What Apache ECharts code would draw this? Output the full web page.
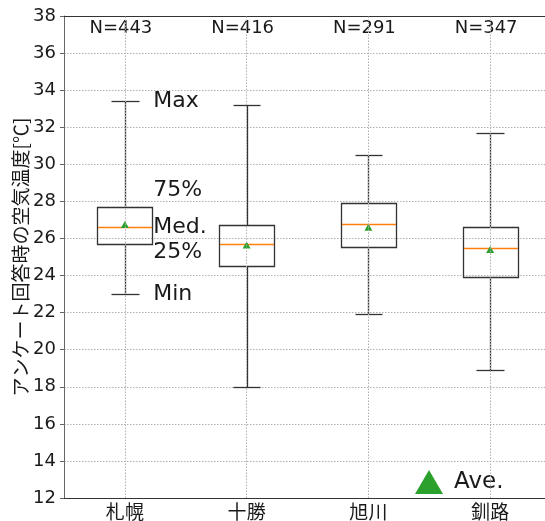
<!DOCTYPE html>
<html>
<head>
<meta charset="utf-8">
<script src="https://cdn.jsdelivr.net/npm/echarts@6/dist/echarts.min.js"></script>
<style>
  html, body { margin: 0; padding: 0; background: #fff; overflow: hidden; }
  #chart { width: 545px; height: 521px; }
</style>
</head>
<body>
<div id="chart"></div>
<script>
// 地点ごとの箱ひげ図の値
const categories = ['札幌', '十勝', '旭川', '釧路'];
const counts = [443, 416, 291, 347];
const whiskerMin = [23.0, 18.0, 21.9, 18.9];
const q1 = [25.7, 24.5, 25.5, 23.9];
const median = [26.6, 25.7, 26.8, 25.5];
const q3 = [27.7, 26.7, 27.9, 26.6];
const whiskerMax = [33.4, 33.2, 30.5, 31.7];
const average = [26.75, 25.65, 26.6, 25.4];

// 札幌の箱の横に付く説明ラベル
const statLabels = ['Max', '75%', 'Med.', '25%', 'Min'];
const statLabelValues = [33.4, 28.6, 26.6, 25.25, 23.0];

const FONT = "'DejaVu Sans', 'Noto Sans CJK JP', sans-serif";
const CJK_FONT = "'Noto Sans CJK JP', sans-serif";
const LINE = '#333';

const chart = echarts.init(document.getElementById('chart'));

const boxData = categories.map((c, i) => [i, whiskerMin[i], q1[i], median[i], q3[i], whiskerMax[i], counts[i]]);

function px(v) {
    return Math.round(v) + 0.5;
}

function renderBox(params, api) {
    const i = api.value(0);
    const xc = api.coord([i, api.value(3)])[0];
    const bw = api.size([1, 0])[0];
    const half = bw * 0.45 / 2;
    const cap = half / 2;
    const yMin = api.coord([i, api.value(1)])[1];
    const yQ1 = api.coord([i, api.value(2)])[1];
    const yMed = api.coord([i, api.value(3)])[1];
    const yQ3 = api.coord([i, api.value(4)])[1];
    const yMax = api.coord([i, api.value(5)])[1];
    const yTop = params.coordSys.y;
    const lineStyle = { stroke: LINE, lineWidth: 1.3, fill: null };

    const children = [
        { type: 'rect', shape: { x: px(xc - half), y: px(yQ3), width: Math.round(2 * half), height: Math.round(yQ1 - yQ3) }, style: lineStyle },
        { type: 'line', shape: { x1: px(xc), y1: px(yQ3), x2: px(xc), y2: px(yMax) }, style: lineStyle },
        { type: 'line', shape: { x1: px(xc), y1: px(yQ1), x2: px(xc), y2: px(yMin) }, style: lineStyle },
        { type: 'line', shape: { x1: px(xc - cap), y1: px(yMax), x2: px(xc + cap), y2: px(yMax) }, style: lineStyle },
        { type: 'line', shape: { x1: px(xc - cap), y1: px(yMin), x2: px(xc + cap), y2: px(yMin) }, style: lineStyle },
        { type: 'line', shape: { x1: Math.round(xc - half) + 1, y1: px(yMed), x2: Math.round(xc + half), y2: px(yMed) },
          style: { stroke: '#ff7f0e', lineWidth: 1.3 } },
        { type: 'text', style: { text: 'N=' + api.value(6), x: xc - 4, y: yTop + 12, align: 'center', verticalAlign: 'middle',
          fontSize: 18, fontFamily: FONT, fill: '#1a1a1a' } }
    ];

    if (i === 0) {
        statLabels.forEach((t, k) => {
            children.push({
                type: 'text',
                style: {
                    text: t, x: xc + half + 1, y: api.coord([i, statLabelValues[k]])[1],
                    align: 'left', verticalAlign: 'middle', fontSize: 22, fontFamily: FONT, fill: '#1a1a1a'
                }
            });
        });
    }
    return { type: 'group', children: children };
}

const option = {
    animation: false,
    backgroundColor: '#fff',
    grid: {
        left: 64, right: -6, top: 16, bottom: 23,
        outerBoundsMode: 'none',
        containLabel: false
    },
    legend: {
        data: [{ name: 'Ave.', icon: 'triangle' }],
        left: 410, top: 465,
        itemWidth: 28, itemHeight: 24,
        textStyle: { fontSize: 23, fontFamily: FONT, color: '#1a1a1a', padding: [4, 0, 0, 6] },
        selectedMode: false
    },
    xAxis: [
        {
            type: 'category',
            data: categories,
            boundaryGap: true,
            axisLine: { lineStyle: { color: LINE, width: 1 } },
            axisTick: { alignWithLabel: true, length: 4, lineStyle: { color: LINE } },
            axisLabel: { fontSize: 19, fontFamily: CJK_FONT, color: '#1a1a1a', margin: 4 },
            splitLine: { show: false }
        },
        {
            // 上枠線だけ
            type: 'category',
            data: categories,
            position: 'top',
            axisLine: { show: true, lineStyle: { color: LINE, width: 1 } },
            axisTick: { show: false },
            axisLabel: { show: false },
            splitLine: { show: false }
        }
    ],
    yAxis: {
        type: 'value',
        min: 12, max: 38, interval: 2,
        name: 'アンケート回答時の空気温度[℃]',
        nameLocation: 'middle',
        nameGap: 34,
        nameMoveOverlap: false,
        nameTextStyle: { fontSize: 19, fontFamily: CJK_FONT, color: '#1a1a1a' },
        axisLine: { show: true, lineStyle: { color: '#666', width: 1 } },
        axisTick: { show: true, length: 4, lineStyle: { color: '#666' } },
        axisLabel: { fontSize: 18, fontFamily: FONT, color: '#1a1a1a', margin: 8 },
        splitLine: { show: true, lineStyle: { color: '#b0b0b0', type: [1.5, 1.5], width: 1 } }
    },
    series: [
        {
            name: 'box',
            type: 'custom',
            renderItem: renderBox,
            data: boxData,
            z: 3,
            silent: true
        },
        {
            name: 'Ave.',
            type: 'scatter',
            data: average,
            symbol: 'triangle',
            symbolSize: [8, 7],
            itemStyle: { color: '#2ca02c', opacity: 1 },
            z: 4,
            markLine: {
                silent: true,
                symbol: 'none',
                label: { show: false },
                lineStyle: { color: '#b0b0b0', type: [1.5, 1.5], width: 1 },
                data: categories.map(c => ({ xAxis: c }))
            }
        }
    ]
};

chart.setOption(option);
</script>
</body>
</html>
